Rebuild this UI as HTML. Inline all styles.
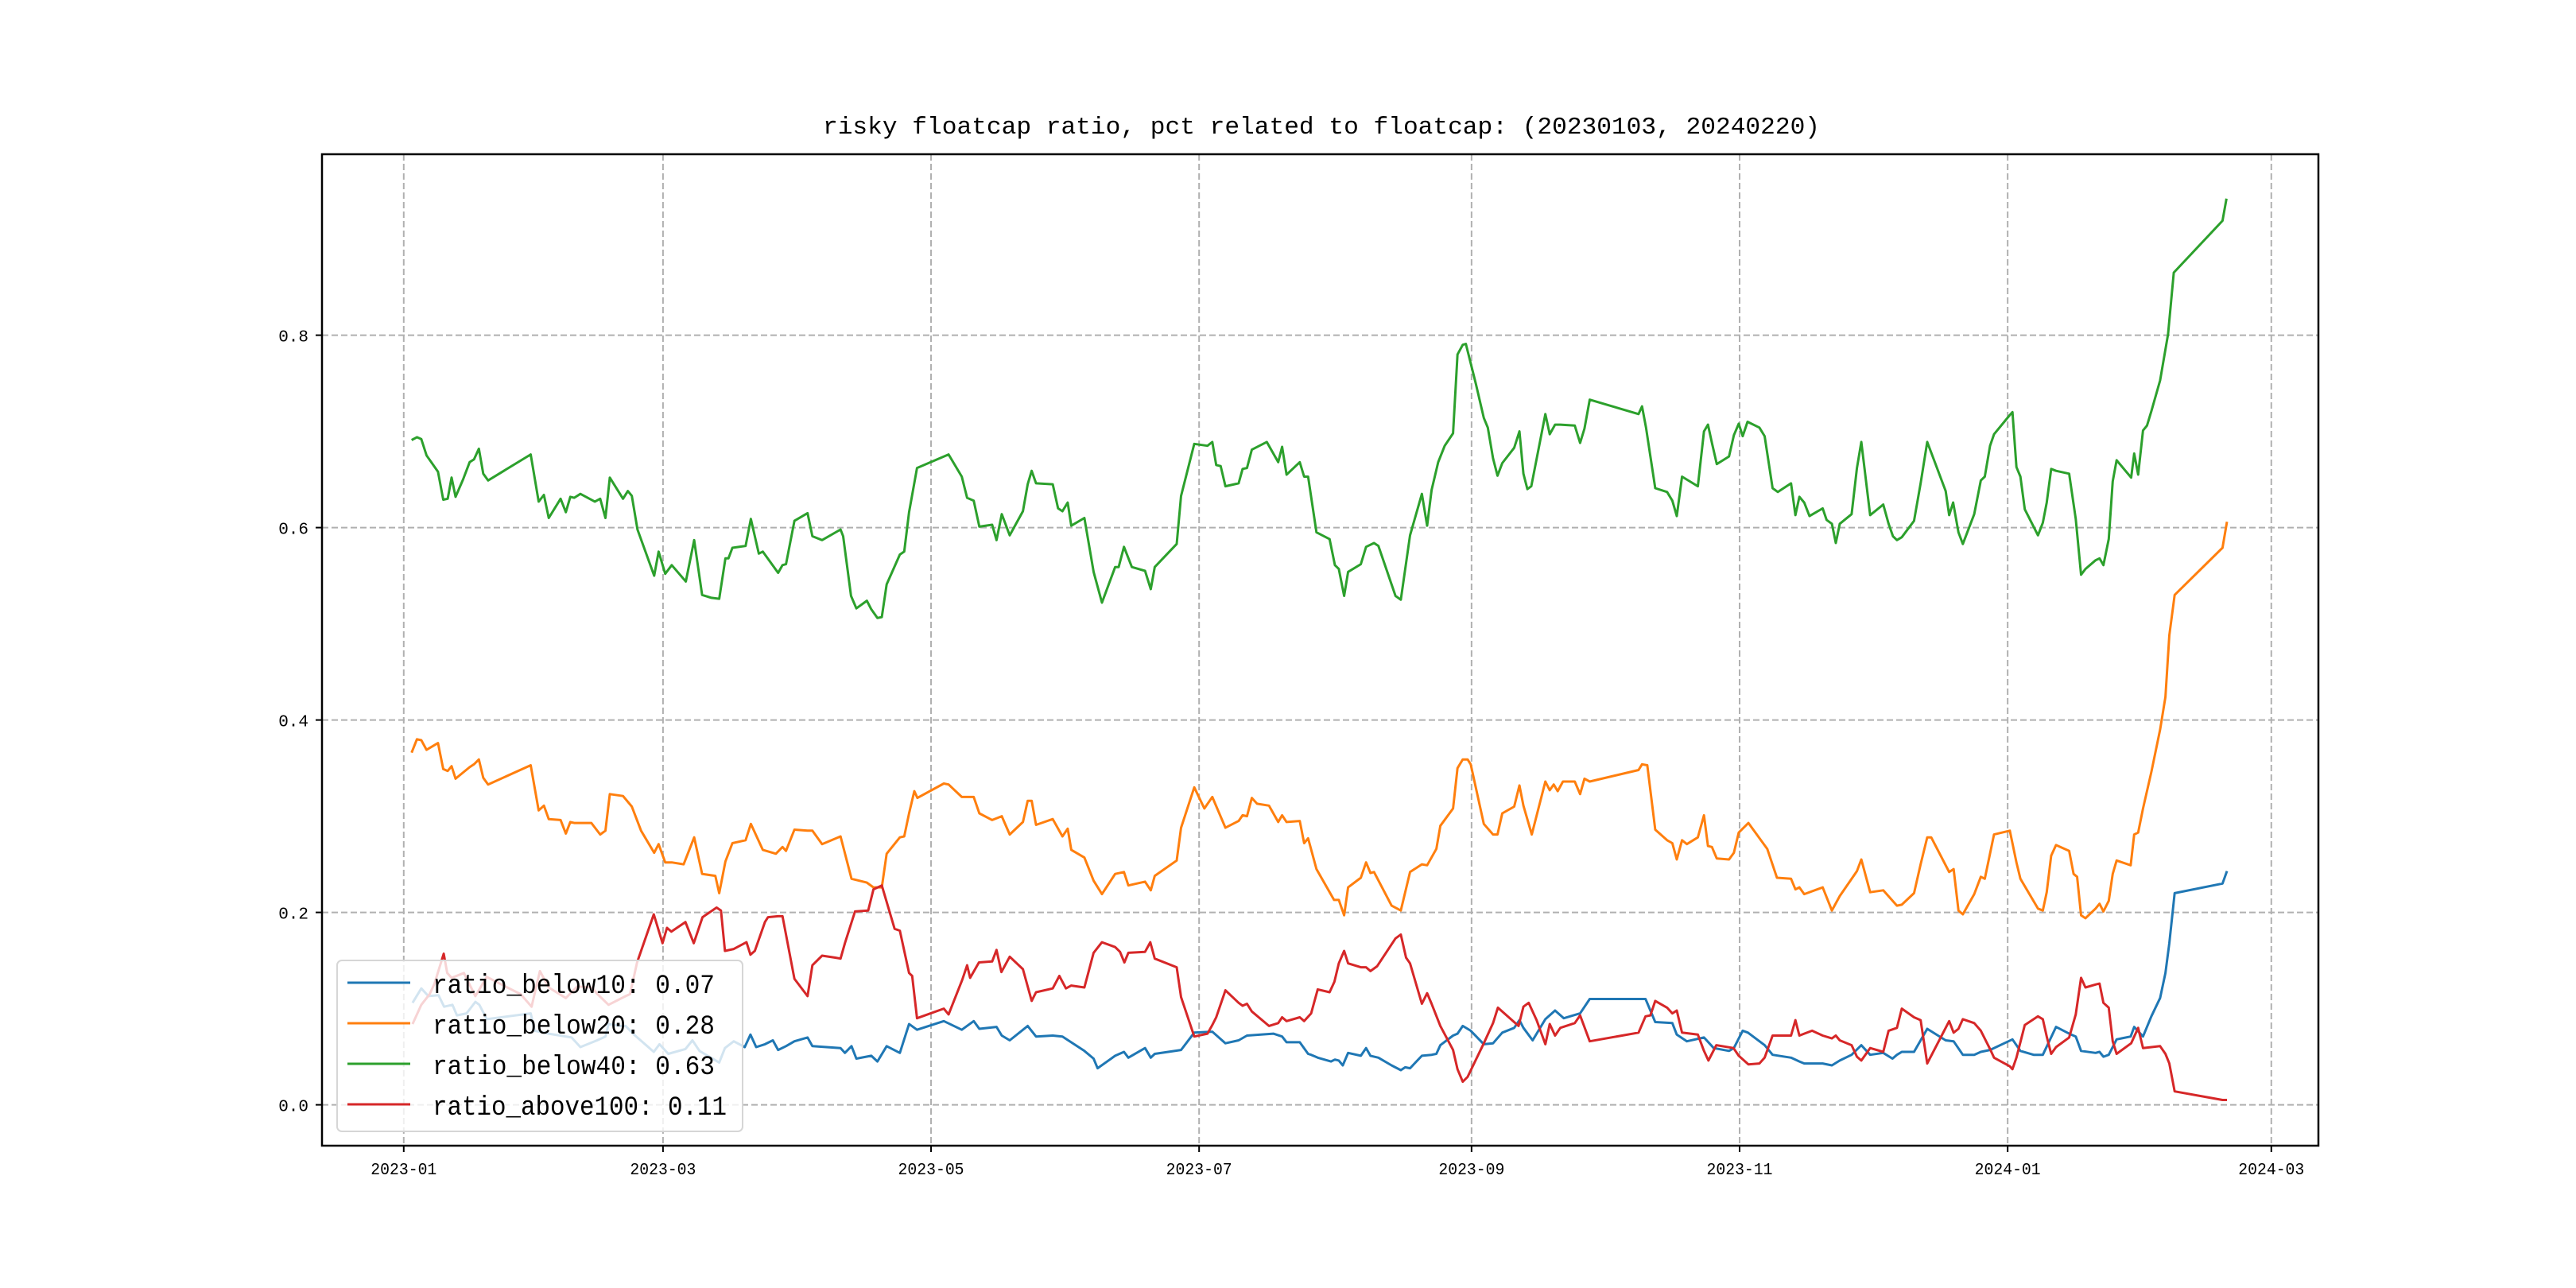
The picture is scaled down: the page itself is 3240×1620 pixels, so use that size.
<!DOCTYPE html>
<html><head><meta charset="utf-8"><title>risky floatcap ratio</title>
<style>html,body{margin:0;padding:0;background:#fff}svg{display:block}</style></head>
<body>
<svg id="chart" width="3240" height="1620" viewBox="0 0 3240 1620" xmlns="http://www.w3.org/2000/svg">
<rect width="3240" height="1620" fill="#fff"/>
<g id="grid"></g>
<g id="series"></g>
<rect x="405" y="194" width="2511" height="1247" fill="none" stroke="#000" stroke-width="2.5"/>
<g id="ticks"></g>
<text x="1662" y="168" text-anchor="middle" font-family="'Liberation Mono', monospace" font-size="31" textLength="1254" lengthAdjust="spacingAndGlyphs" fill="#000">risky floatcap ratio, pct related to floatcap: (20230103, 20240220)</text>
<g id="legend"></g>
</svg>
<script>
// days since 2023-01-01 and values for each series
const blueDays=[2,4,5.6,7.9,9.2,11.1,12.1,14.3,16.3,17.2,18.9,28.9,29.8,33,38.2,40.2,44,45.9,46.6,49.2,50.5,52.4,56.9,58.2,60.2,64.1,65.7,67.3,71.8,73.1,75.1,77.6,78.9,80.2,82.2,84,85.2,87,88.9,91.9,93,99.4,100.4,101.9,103,106.4,107.8,109.9,112.9,115,116.8,122.9,127,129.7,131,134.9,136.1,137.9,142,143.9,147.7,149.9,154.9,157,157.9,161.9,163.9,164.9,168.7,170,170.9,176.9,179.9,184,187,190,191.9,197.9,199.9,200.9,203.9,205.8,206.5,208,211,211.9,212.8,213.7,214.9,217.8,219,220,221.8,224.8,226.9,227.9,229,231.7,233.9,235,235.9,238.8,239.8,241,242.8,245.8,247.9,250,252.7,253.9,254.8,256.9,259.8,262,264,267.7,269.9,281,282.6,284.8,288.7,289.7,292,295.9,298.1,301.6,302.7,304.7,305.9,309.7,311.5,315.7,317.6,318.7,322.9,325,326.8,329.5,331.7,333.7,336.7,338.8,339.8,340.9,343.7,346.7,350.9,352.7,354.8,357.4,358.9,361,366.1,367.9,370.9,373,376,379,380.5,381.7,385,385.9,386.8,388,389.8,393,393.8,395.8,397.7,399.7,400.9,401.8,403,413.9,414.9];
const blueVals=[.106,.121,.113,.114,.102,.104,.093,.095,.107,.104,.089,.095,.077,.074,.070,.060,.067,.071,.084,.082,.082,.073,.055,.063,.053,.058,.067,.056,.044,.059,.066,.060,.073,.060,.063,.067,.057,.061,.066,.070,.061,.059,.054,.061,.048,.051,.045,.061,.054,.084,.078,.087,.078,.087,.079,.081,.072,.067,.082,.071,.072,.071,.056,.048,.038,.051,.055,.049,.059,.049,.053,.057,.075,.076,.064,.067,.072,.074,.071,.065,.065,.053,.052,.049,.045,.047,.046,.041,.054,.051,.059,.051,.049,.041,.036,.039,.038,.051,.052,.053,.062,.072,.074,.082,.077,.063,.064,.075,.080,.088,.080,.067,.089,.098,.090,.095,.110,.110,.110,.086,.085,.073,.066,.070,.059,.056,.059,.077,.075,.062,.052,.049,.045,.043,.043,.041,.046,.052,.062,.052,.054,.048,.052,.055,.055,.079,.067,.066,.052,.052,.055,.057,.068,.056,.052,.052,.081,.074,.071,.056,.054,.055,.050,.052,.068,.071,.081,.071,.092,.111,.137,.168,.220,.230,.243];

const orangeDays=[1.8,3,4,5.2,7.8,9,10,10.9,11.8,15,16,17.1,18.1,19.2,28.9,30.7,31.9,33,35.7,36.9,37.9,38.8,42.7,44.7,45.9,46.9,49.9,51.9,54,57,58,59.5,61,63.7,66.1,67.9,70.9,71.8,73.2,74.8,77.8,79,81.7,84.7,86.2,87,88.9,91.9,93,95.2,99.4,101.9,105.4,106.9,108.8,109.9,112.9,113.9,115,116.2,116.9,122.9,124,127,129.7,131,133.9,136.1,137.9,140.9,142,142.9,143.9,147.7,149.9,151.1,151.9,154.9,157,158.9,161.9,163.9,164.9,168.7,170,170.9,175.9,176.9,179.9,182.2,184,187,190,190.9,191.9,193,194.2,196.9,199,199.9,200.9,203.9,204.9,205.8,207.7,211.7,212.8,214,214.9,217.8,219,220,220.8,224.8,226.9,229,231.7,232.9,235,235.9,238.8,239.8,241,242.1,242.8,245.8,247.9,248.9,250,252.7,253.9,254.8,256.7,259.8,260.8,261.7,262.6,263.8,266.5,267.7,268.7,269.9,281,281.8,283,284.8,287.5,288.7,289.7,290.9,292,294.5,295.9,296.8,297.7,298.8,301.6,302.7,303.8,306,310.3,312.5,315.7,316.7,317.6,318.7,322.9,325,326.8,330.7,331.7,333.7,336.7,339.8,340.9,343.7,345.2,346.7,347.6,351.7,352.7,353.8,354.8,357.4,358.9,359.8,361.9,365.5,367,367.9,371.9,373,373.9,374.9,376,379,380,380.8,381.7,382.7,385,385.9,386.8,388,388.9,389.8,393,393.8,394.7,395.8,397.7,399.7,400.9,401.8,403,413.9,414.9];
const orangeVals=[.366,.380,.379,.369,.376,.349,.347,.352,.339,.351,.354,.359,.340,.333,.353,.306,.311,.297,.296,.282,.294,.293,.293,.281,.285,.323,.321,.310,.285,.262,.271,.252,.252,.250,.278,.240,.238,.220,.253,.272,.275,.292,.265,.261,.268,.264,.286,.285,.285,.271,.279,.235,.231,.226,.226,.261,.278,.279,.303,.326,.319,.334,.333,.320,.320,.303,.296,.300,.281,.294,.316,.316,.291,.297,.279,.287,.265,.257,.233,.219,.240,.242,.228,.232,.223,.238,.254,.288,.330,.308,.320,.288,.295,.301,.300,.319,.313,.311,.294,.301,.294,.295,.272,.277,.245,.213,.213,.197,.226,.236,.252,.241,.242,.207,.202,.242,.250,.249,.266,.290,.308,.350,.359,.359,.354,.292,.281,.281,.303,.310,.332,.311,.281,.336,.327,.333,.326,.336,.336,.323,.339,.336,.348,.354,.353,.286,.275,.272,.255,.275,.271,.278,.301,.269,.268,.256,.255,.262,.283,.293,.266,.236,.235,.224,.226,.219,.226,.202,.217,.243,.255,.221,.223,.207,.208,.220,.250,.278,.278,.242,.245,.202,.198,.219,.237,.235,.281,.285,.252,.235,.204,.202,.221,.259,.270,.264,.240,.237,.197,.194,.204,.209,.201,.212,.240,.254,.249,.281,.283,.308,.346,.390,.424,.488,.530,.579,.606];

const greenDays=[1.8,3,4,5.2,7.8,9,10,10.9,11.8,13.5,15,16,17.1,18.1,19.2,28.9,30.7,31.9,33,35.7,36.9,37.9,38.8,40.2,43.5,44.7,45.9,46.9,49.9,51,51.9,53.2,57,58,59.5,61,64.2,66.1,67.9,70,71.8,73.2,73.9,74.8,77.8,79,80.8,81.7,85.2,86.2,87,88.9,91.9,93,95.2,99.4,100,101.8,103,105.4,106.4,107.8,108.8,109.9,112.9,113.9,115,116.8,124,127,128.2,129.7,131,133.9,134.9,136.1,137.9,140.9,142,142.9,143.9,147.7,148.9,149.9,151.1,151.9,154.9,157,158.9,161.9,162.7,163.9,165.7,168.7,170,170.9,175.9,176.9,179.9,182.9,184,184.9,185.9,187,190,190.9,191.9,193,196.4,199,199.9,200.9,203.9,204.9,205.8,207.7,210.7,211.9,212.8,214,214.9,217.8,219,220.8,221.8,225.7,226.9,229,231.7,232.9,233.9,235.4,236.9,238.8,239.8,241,241.7,244,245.8,246.7,247.9,248.9,250,252.7,253.9,254.8,255.7,256.6,259.8,260.8,262,263.2,266.5,267.7,268.7,269.9,281,281.8,282.7,284.8,287.5,288.7,289.7,290.9,294.5,295.9,296.8,297.7,298.8,301.6,302.7,303.8,304.7,305.8,308.5,309.7,311.5,312.7,315.7,316.7,317.6,318.7,319.9,322.9,323.8,325,325.9,326.8,329.5,330.7,331.7,333.7,336.7,337.9,338.9,339.8,340.9,343.7,345.2,346.7,350.9,351.7,352.6,353.8,354.8,357.4,358.9,359.8,361,361.9,365.5,366.1,367,367.9,368.9,371.9,373,373.9,374.9,376,379,380.5,381.7,382.7,385,385.9,386.8,388,388.9,389.8,393.1,393.8,394.7,395.8,396.7,397.7,399.7,401.5,402.8,413.9,414.8];
const greenVals=[.691,.694,.692,.675,.658,.629,.630,.652,.632,.650,.668,.671,.682,.656,.649,.676,.627,.634,.610,.630,.616,.632,.631,.635,.627,.630,.610,.652,.630,.638,.633,.598,.550,.575,.552,.561,.544,.587,.530,.527,.526,.568,.568,.579,.581,.609,.573,.575,.553,.561,.562,.607,.615,.591,.587,.598,.591,.529,.516,.524,.515,.506,.507,.541,.572,.575,.616,.662,.676,.653,.631,.628,.601,.603,.587,.614,.592,.617,.645,.659,.646,.645,.620,.617,.626,.602,.610,.554,.522,.559,.559,.580,.559,.555,.536,.559,.583,.633,.687,.685,.689,.665,.664,.643,.646,.661,.662,.681,.689,.668,.684,.655,.668,.653,.653,.595,.588,.561,.557,.529,.554,.562,.580,.584,.581,.529,.525,.592,.635,.602,.639,.668,.685,.698,.780,.790,.791,.749,.714,.704,.672,.654,.667,.683,.700,.656,.640,.643,.718,.697,.707,.707,.706,.688,.703,.733,.718,.726,.704,.641,.637,.628,.612,.653,.643,.700,.707,.688,.666,.674,.696,.708,.695,.710,.704,.695,.641,.637,.646,.613,.632,.626,.612,.620,.608,.604,.584,.604,.614,.662,.689,.613,.624,.604,.591,.587,.590,.607,.646,.689,.638,.613,.626,.595,.583,.614,.649,.653,.685,.697,.717,.720,.663,.653,.619,.592,.605,.626,.661,.659,.656,.609,.551,.557,.566,.568,.561,.588,.648,.670,.652,.677,.655,.701,.706,.721,.753,.801,.865,.919,.942];

const redDays=[2,4,5.9,7,9.1,9.9,10.9,13.7,16.3,18.9,22.7,26.6,29.1,31,33,36.9,39.5,42.8,44.1,46.6,50.5,51.5,53.1,56.9,58.9,59.9,60.9,64.1,66,68,71.2,72.2,73.1,75.1,78,78.9,79.9,82.2,82.9,85.2,86.2,88.9,91.9,93,95.2,98.2,99.4,100.4,102.7,105.7,106.9,108.8,111.7,112.9,115,115.7,116.8,122.9,124,127.1,128.2,128.9,130.9,133.9,134.9,136,137.9,140.9,142.9,143.9,147.7,149.2,150.7,151.9,154.9,157,158.9,161.9,163,164,164.9,168.7,169.9,170.9,175.9,176.9,179.9,182.9,184,184.9,187,190,190.9,191.9,193,196.9,199,199.9,200.9,203.9,204.9,206.5,208,210.7,211.8,212.8,214,214.9,217.8,219,220,221.5,225.7,226.9,228.1,229,231.7,232.9,233.9,235.9,238.8,239.8,241,242.1,245.8,247.9,249,253.7,254.8,256,257.8,259.8,260.8,262,263.2,266.5,267.7,269.9,281,282.6,283.7,284.8,287.5,288.7,289.7,290.9,294.5,295.9,296.9,298.7,302.6,303.8,306,308.5,309.7,311.5,315.7,316.7,317.6,318.7,320.5,322.9,325,325.9,326.8,329.5,330.7,331.7,333.7,336.7,337.9,339.8,340.9,343.7,345.2,346.7,351.7,352.7,353.8,354.8,357.4,358.9,361,361.9,365.5,366.1,367,368.9,371.9,373,373.9,374.9,376,379,380.5,381.7,382.7,385,385.9,386.8,388,388.9,389.8,393.1,394.7,395.8,399.7,400.9,401.8,403,413.9,414.9];
const redVals=[.084,.104,.115,.126,.157,.137,.132,.137,.113,.133,.124,.115,.102,.139,.122,.111,.123,.122,.115,.104,.113,.115,.148,.198,.168,.184,.180,.190,.168,.195,.205,.202,.160,.162,.169,.156,.160,.190,.195,.196,.196,.131,.113,.145,.155,.153,.152,.168,.201,.202,.224,.228,.183,.181,.137,.134,.090,.100,.094,.130,.145,.132,.148,.149,.161,.138,.154,.141,.108,.117,.121,.134,.121,.124,.122,.158,.169,.164,.159,.148,.158,.159,.169,.152,.143,.112,.071,.074,.083,.091,.119,.106,.103,.105,.097,.082,.085,.091,.087,.091,.087,.095,.120,.117,.128,.147,.160,.147,.143,.143,.139,.144,.173,.177,.153,.147,.105,.116,.105,.082,.057,.037,.024,.029,.064,.085,.101,.082,.102,.106,.088,.063,.084,.072,.080,.085,.093,.066,.075,.092,.093,.108,.101,.095,.098,.075,.073,.056,.046,.062,.059,.051,.042,.043,.049,.072,.072,.088,.072,.074,.077,.072,.069,.072,.067,.062,.050,.046,.059,.055,.077,.080,.100,.091,.088,.043,.087,.075,.079,.089,.085,.077,.058,.049,.040,.037,.049,.083,.092,.089,.071,.053,.060,.070,.094,.132,.122,.125,.126,.106,.101,.066,.053,.064,.080,.059,.061,.053,.043,.014,.005,.005];

const yTicks=[0.0,0.2,0.4,0.6,0.8];
const yTickLabels=["0.0","0.2","0.4","0.6","0.8"];
const xTickDays=[0,59,120,181,243,304,365,425];
const xTickLabels=["2023-01","2023-03","2023-05","2023-07","2023-09","2023-11","2024-01","2024-03"];
const seriesNames=["ratio_below10: 0.07","ratio_below20: 0.28","ratio_below40: 0.63","ratio_above100: 0.11"];

const NS="http://www.w3.org/2000/svg";
const X0=507.8, PXDAY=5.527, Y0=1389.6, PXUNIT=1210;
function xs(d){return X0+d*PXDAY;}
function ys(v){return Y0-v*PXUNIT;}
function mk(tag,attrs,parent){const e=document.createElementNS(NS,tag);for(const k in attrs)e.setAttribute(k,attrs[k]);parent.appendChild(e);return e;}

const grid=document.getElementById('grid'),ticks=document.getElementById('ticks');
yTicks.forEach((v,i)=>{
  const g=mk('line',{x1:405,x2:2916,y1:ys(v),y2:ys(v),stroke:'#b0b0b0','stroke-width':2,'stroke-dasharray':'8,4'},grid);
  
  
  const t=mk('line',{x1:397,x2:405,y1:ys(v),y2:ys(v),stroke:'#000','stroke-width':2},ticks);
  
  
  const l=mk('text',{x:388,y:ys(v)+8,'text-anchor':'end','font-family':"'Liberation Mono', monospace",'font-size':21,fill:'#000'},ticks);
  l.textContent=yTickLabels[i];
  
  
});
xTickDays.forEach((d,i)=>{
  const g=mk('line',{x1:xs(d),x2:xs(d),y1:194,y2:1441,stroke:'#b0b0b0','stroke-width':2,'stroke-dasharray':'8,4'},grid);
  
  
  const t=mk('line',{x1:xs(d),x2:xs(d),y1:1441,y2:1449,stroke:'#000','stroke-width':2},ticks);
  
  
  const l=mk('text',{x:xs(d),y:1477,'text-anchor':'middle','font-family':"'Liberation Mono', monospace",'font-size':21,textLength:83,lengthAdjust:'spacingAndGlyphs',fill:'#000'},ticks);
  l.textContent=xTickLabels[i];
  
  
});

const series=document.getElementById('series');
const defs=[[blueDays,blueVals,'#1f77b4','line-ratio-below10'],[orangeDays,orangeVals,'#ff7f0e','line-ratio-below20'],[greenDays,greenVals,'#2ca02c','line-ratio-below40'],[redDays,redVals,'#d62728','line-ratio-above100']];
defs.forEach(s=>{
  const pts=s[0].map((d,i)=>xs(d).toFixed(1)+','+ys(s[1][i]).toFixed(1)).join(' ');
  const p=mk('polyline',{points:pts,fill:'none',stroke:s[2],'stroke-width':3,'stroke-linejoin':'round'},series);
  
  
});

const lg=document.getElementById('legend');
const box=mk('rect',{x:424,y:1208,width:510,height:215,rx:6,fill:'rgba(255,255,255,0.8)',stroke:'#d6d6d6','stroke-width':2},lg);


const lw=[355,355,355,370];
seriesNames.forEach((n,i)=>{
  const yb=1249+i*51;
  const ln=mk('line',{x1:437,x2:516,y1:yb-13,y2:yb-13,stroke:defs[i][2],'stroke-width':3},lg);
  
  
  const t=mk('text',{x:544,y:yb,'font-family':"'Liberation Mono', monospace",'font-size':34,textLength:lw[i],lengthAdjust:'spacingAndGlyphs',fill:'#000'},lg);
  t.textContent=n;
  
  
});
</script>
</body></html>
